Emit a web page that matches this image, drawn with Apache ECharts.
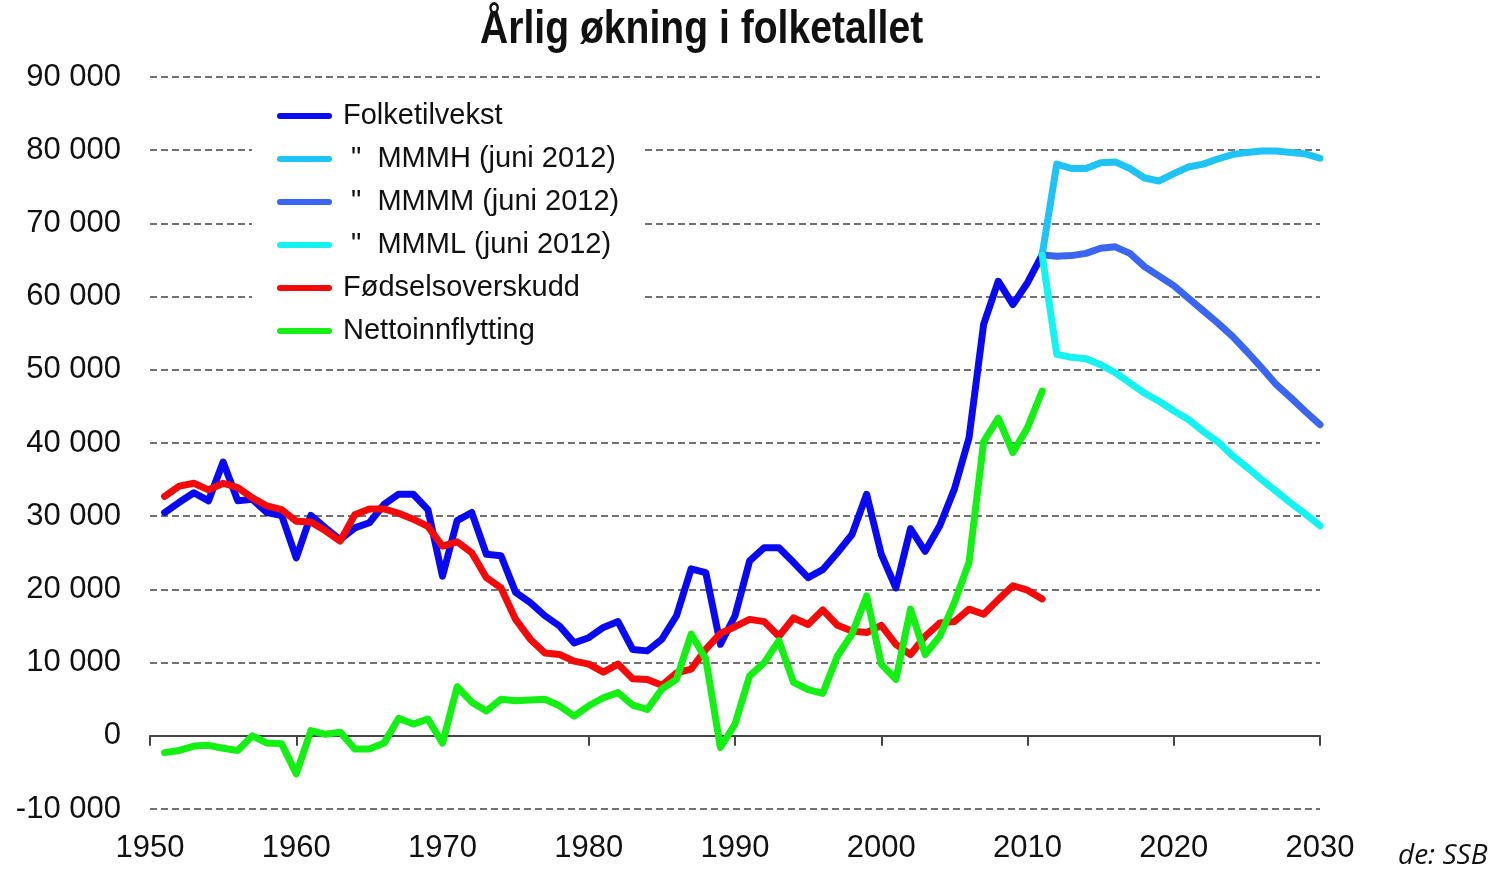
<!DOCTYPE html>
<html>
<head>
<meta charset="utf-8">
<script src="https://cdn.jsdelivr.net/npm/echarts@6/dist/echarts.min.js"></script>
<style>
  html, body { margin: 0; padding: 0; background: #fff; }
  #chart { width: 1495px; height: 875px; }
</style>
</head>
<body>
<div id="chart"></div>
<script>
// historikk 1951-2011
var startYear = 1951
var folketilvekst = [30500, 31900, 33200, 32100, 37400, 32100, 32300, 30500, 30100, 24300,
  30100, 28400, 26800, 28400, 29100, 31600, 33000, 33000, 30900, 21800,
  29400, 30500, 24800, 24600, 19600, 18200, 16400, 15000, 12700, 13400,
  14800, 15600, 11800, 11600, 13200, 16400, 22800, 22300, 12500, 16400,
  23900, 25700, 25700, 23700, 21600, 22700, 25000, 27500, 33000, 24800,
  20200, 28300, 25200, 28700, 33700, 40700, 56200, 62100, 58900, 61900, 65700]
var fodselsoverskudd = [32700, 34100, 34500, 33600, 34500, 33900, 32500, 31400, 30900, 29300,
  29200, 28000, 26600, 30200, 31000, 31000, 30400, 29600, 28600, 25900,
  26500, 25000, 21600, 20200, 15900, 13200, 11300, 11100, 10200, 9800,
  8700, 9800, 7800, 7700, 6900, 8600, 9100, 11800, 14000, 14900,
  15900, 15600, 13600, 16100, 15200, 17200, 15100, 14300, 14100, 15100,
  12500, 11100, 13600, 15400, 15600, 17300, 16600, 18600, 20500, 19900, 18700]
var nettoinnflytting = [-2300, -2000, -1400, -1300, -1700, -2000, 0, -1000, -1100, -5200,
  700, 200, 500, -1800, -1800, -1000, 2400, 1600, 2300, -1000,
  6700, 4600, 3400, 5000, 4800, 4900, 5000, 4100, 2700, 4100,
  5200, 5900, 4200, 3600, 6400, 7700, 13900, 10500, -1600, 1600,
  8200, 10000, 13000, 7300, 6300, 5800, 10900, 13900, 19100, 9800,
  7700, 17300, 11100, 13600, 18200, 23700, 40200, 43400, 38700, 42100, 47100]

// framskrivinger 2011-2030
var projStart = 2011
var mmmh = [65700, 78100, 77500, 77500, 78300, 78400, 77500, 76200, 75800, 76800,
  77700, 78100, 78800, 79400, 79700, 79900, 79900, 79700, 79500, 78900]
var mmmm = [65700, 65500, 65600, 65900, 66600, 66800, 65900, 64100, 62800, 61500,
  59800, 58100, 56400, 54600, 52500, 50300, 48000, 46200, 44300, 42500]
var mmml = [65700, 52100, 51700, 51500, 50700, 49600, 48200, 46800, 45700, 44400,
  43200, 41600, 40200, 38300, 36700, 35000, 33400, 31800, 30300, 28700]

var yTicks = { min: -10000, max: 90000, step: 10000 }
var xTicks = { min: 1950, max: 2030, step: 10 }

function pairs (first, values) {
  return values.map(function (v, i) { return [first + i, v] })
}

function fmt (v) {
  var s = String(Math.abs(v)).replace(/\B(?=(\d{3})+(?!\d))/g, ' ')
  return (v < 0 ? '-' : '') + s
}

function line (name, color, data) {
  return {
    name: name,
    type: 'line',
    symbol: 'none',
    xAxisIndex: 0,
    data: data,
    lineStyle: { color: color, width: 7, cap: 'round', join: 'round' },
    itemStyle: { color: color },
    animation: false
  }
}

var chart = echarts.init(document.getElementById('chart'))
var legendIcon = 'path://M3,0 L52,0 A3,3 0 0 1 52,6 L3,6 A3,3 0 0 1 3,0 Z'

var series = [
  line('Folketilvekst', '#0a0af2', pairs(startYear, folketilvekst)),
  line(' "  MMMH (juni 2012)', '#1fc3f5', pairs(projStart, mmmh)),
  line(' "  MMMM (juni 2012)', '#3a66f2', pairs(projStart, mmmm)),
  line(' "  MMML (juni 2012)', '#14f2f2', pairs(projStart, mmml)),
  line('Fødselsoverskudd', '#f50a0a', pairs(startYear, fodselsoverskudd)),
  line('Nettoinnflytting', '#14f014', pairs(startYear, nettoinnflytting))
]
// loddrett strek ved siste observerte år
series[0].markLine = {
  silent: true,
  symbol: ['none', 'none'],
  label: { show: false },
  lineStyle: { color: '#000', width: 2, type: 'solid' },
  data: [[{ coord: [projStart, 90500] }, { coord: [projStart, 800] }]]
}

chart.setOption({
  backgroundColor: '#fff',
  animation: false,
  legend: {
    orient: 'vertical',
    left: 252,
    top: 93,
    padding: [8, 25, 10, 25],
    backgroundColor: '#fff',
    itemWidth: 55,
    itemHeight: 7,
    itemGap: 13,
    icon: legendIcon,
    textStyle: {
      fontFamily: '"Liberation Sans", Arial, sans-serif',
      fontSize: 29,
      lineHeight: 30,
      color: '#111',
      padding: [0, 0, 0, 6]
    },
    data: series.map(function (s) { return s.name })
  },
  grid: { left: 150, right: 175, top: 77, bottom: 66, containLabel: false },
  xAxis: [
    {
      type: 'value',
      min: xTicks.min,
      max: xTicks.max,
      interval: xTicks.step,
      axisLine: { show: true, onZero: true, lineStyle: { color: '#444', width: 2 } },
      axisTick: { show: true, inside: false, length: 10, lineStyle: { color: '#444', width: 2 } },
      axisLabel: { show: false },
      splitLine: { show: false }
    },
    {
      type: 'value',
      position: 'bottom',
      min: xTicks.min,
      max: xTicks.max,
      interval: xTicks.step,
      axisLine: { show: false, onZero: false },
      axisTick: { show: false },
      splitLine: { show: false },
      axisLabel: {
        margin: 24,
        fontFamily: '"Liberation Sans", Arial, sans-serif',
        fontSize: 31,
        color: '#111',
        formatter: function (v) { return String(v) }
      }
    }
  ],
  yAxis: {
    type: 'value',
    min: yTicks.min,
    max: yTicks.max,
    interval: yTicks.step,
    axisLine: { show: false },
    axisTick: { show: false },
    axisLabel: {
      margin: 29,
      fontFamily: '"Liberation Sans", Arial, sans-serif',
      fontSize: 31,
      color: '#111',
      formatter: fmt
    },
    splitLine: { show: true, lineStyle: { color: '#444', width: 1.5, type: [7, 4] } }
  },
  graphic: [{
    // tittelen er smal og fet i originalen
    type: 'text',
    x: 480,
    y: 7,
    scaleX: 0.85,
    style: {
      text: 'Årlig økning i folketallet',
      font: 'bold 46px "Liberation Sans", Arial, sans-serif',
      fill: '#111',
      verticalAlign: 'top'
    }
  }, {
    type: 'text',
    left: 1398,
    top: 842,
    style: {
      text: 'de: SSB',
      font: 'italic 28px "Open Sans", sans-serif',
      fill: '#111'
    }
  }],
  series: series
})
</script>
</body>
</html>
